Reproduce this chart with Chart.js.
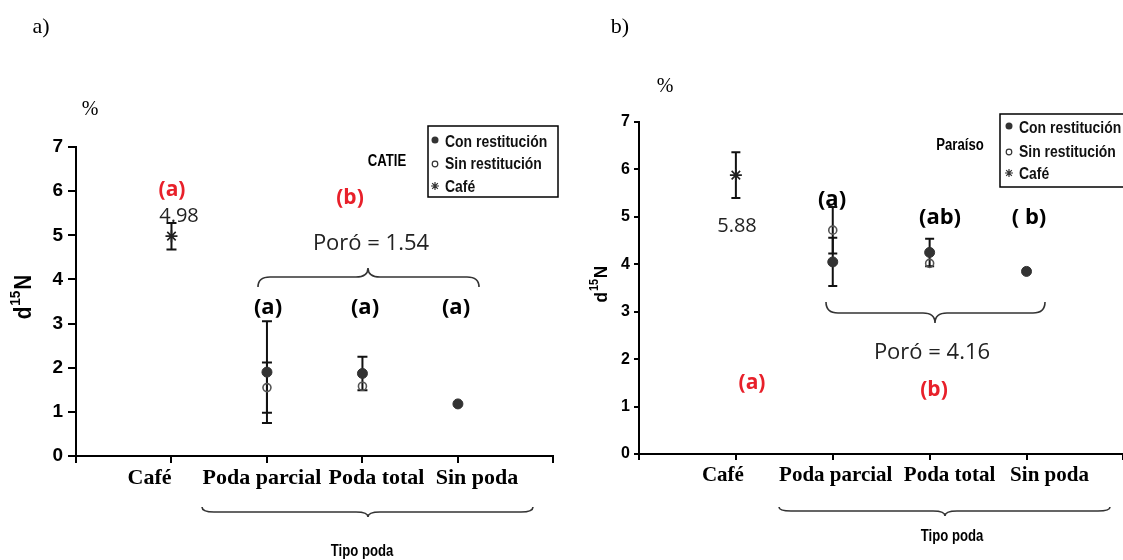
<!DOCTYPE html>
<html>
<head>
<meta charset="utf-8">
<script src="https://cdn.jsdelivr.net/npm/chart.js@4.4.1/dist/chart.umd.min.js"></script>
<style>
html, body { margin: 0; padding: 0; background: #fff; overflow: hidden; width: 1123px; height: 560px; }
#wrapA { position: absolute; left: 0; top: 0; width: 561px; height: 560px; }
#wrapB { position: absolute; left: 561px; top: 0; width: 570px; height: 560px; }
</style>
</head>
<body>
<div id="wrapA"><canvas id="chartA" width="561" height="560"></canvas></div>
<div id="wrapB"><canvas id="chartB" width="570" height="560"></canvas></div>
<script>
"use strict";

// categories on the x axis (placed at 1..4) and tick values
const categories = ["Café", "Poda parcial", "Poda total", "Sin poda"];
const xTicks = [0, 1, 2, 3, 4, 5];
const yTicks = [0, 1, 2, 3, 4, 5, 6, 7];

// a) CATIE
const catieCon = [null, 1.90, 1.87, 1.18];
const catieConErr = [null, 1.15, 0.38, 0];
const catieSin = [null, 1.55, 1.58, null];
const catieSinErr = [null, 0.57, 0, null];
const catieCafe = [4.98, null, null, null];
const catieCafeErr = [0.30, null, null, null];

// b) Paraíso
const paraisoCon = [null, 4.05, 4.25, 3.85];
const paraisoConErr = [null, 0.51, 0.29, 0];
const paraisoSin = [null, 4.72, 4.02, null];
const paraisoSinErr = [null, 0.49, 0, null];
const paraisoCafe = [5.88, null, null, null];
const paraisoCafeErr = [0.48, null, null, null];

const ARIAL = '"Liberation Sans", Arial, sans-serif';
const SERIF = '"Liberation Serif", "Times New Roman", serif';
const SANS = '"Open Sans", "Noto Sans", sans-serif';
const RED = "#e8202a";
const SQUEEZE = 0.82;   // no narrow font installed, so squeeze Liberation Sans

function toPoints(vals) {
    let pts = [];
    vals.forEach(function(v, i) {
        if (v !== null) pts.push({x: i + 1, y: v});
    });
    return pts;
}

// text in a condensed look: horizontal squeeze around the anchor
function fillNarrow(ctx, text, x, y, align) {
    ctx.save();
    ctx.translate(x, y);
    ctx.scale(SQUEEZE, 1);
    ctx.textAlign = align || "center";
    ctx.fillText(text, 0, 0);
    ctx.restore();
}

function drawStar(ctx, x, y, r) {
    ctx.beginPath();
    ctx.moveTo(x, y - r); ctx.lineTo(x, y + r);
    ctx.moveTo(x - r, y); ctx.lineTo(x + r, y);
    let d = r * 0.7071;
    ctx.moveTo(x - d, y - d); ctx.lineTo(x + d, y + d);
    ctx.moveTo(x - d, y + d); ctx.lineTo(x + d, y - d);
    ctx.stroke();
}

function drawBrace(ctx, b) {
    let r = 12;
    ctx.beginPath();
    ctx.moveTo(b.x1, b.yEnd);
    ctx.quadraticCurveTo(b.x1, b.yMid, b.x1 + r, b.yMid);
    ctx.lineTo(b.xt - r, b.yMid);
    ctx.quadraticCurveTo(b.xt, b.yMid, b.xt, b.yTip);
    ctx.quadraticCurveTo(b.xt, b.yMid, b.xt + r, b.yMid);
    ctx.lineTo(b.x2 - r, b.yMid);
    ctx.quadraticCurveTo(b.x2, b.yMid, b.x2, b.yEnd);
    ctx.strokeStyle = "#333";
    ctx.lineWidth = 1.6;
    ctx.stroke();
}

function annotPlugin(cfg) {
    return {
        id: "annot",
        beforeDatasetsDraw: function(chart) {
            let ctx = chart.ctx;
            let xs = chart.scales.x, ys = chart.scales.y;
            ctx.save();
            ctx.strokeStyle = "#111";
            ctx.lineWidth = 2;
            cfg.errors.forEach(function(s) {
                s.vals.forEach(function(v, i) {
                    let e = s.errs[i];
                    if (v === null || !e) return;
                    let px = xs.getPixelForValue(i + 1);
                    let lo = ys.getPixelForValue(v - e);
                    let hi = ys.getPixelForValue(v + e);
                    ctx.beginPath();
                    ctx.moveTo(px, lo); ctx.lineTo(px, hi);
                    ctx.moveTo(px - cfg.cap, lo); ctx.lineTo(px + cfg.cap, lo);
                    ctx.moveTo(px - cfg.cap, hi); ctx.lineTo(px + cfg.cap, hi);
                    ctx.stroke();
                });
            });
            ctx.restore();
        },
        afterDraw: function(chart) {
            let ctx = chart.ctx;
            let xs = chart.scales.x;
            ctx.save();
            ctx.textAlign = "center";
            ctx.textBaseline = "middle";

            // category labels under the axis
            ctx.fillStyle = "#000";
            ctx.font = cfg.catFont;
            categories.forEach(function(c, i) {
                ctx.fillText(c, xs.getPixelForValue(i + 1) + cfg.catOffset[i], cfg.catY);
            });

            cfg.texts.forEach(function(t) {
                ctx.font = t.font;
                ctx.fillStyle = t.color || "#000";
                if (t.narrow) fillNarrow(ctx, t.t, t.x, t.y);
                else ctx.fillText(t.t, t.x, t.y);
            });

            cfg.braces.forEach(function(b) { drawBrace(ctx, b); });

            // y axis title d15N, rotated
            let yt = cfg.yTitle;
            ctx.save();
            ctx.translate(yt.x, yt.y);
            ctx.rotate(-Math.PI / 2);
            ctx.scale(0.9, 1);
            ctx.fillStyle = "#000";
            let big = "bold " + yt.size + "px " + ARIAL;
            let small = "bold " + yt.sup + "px " + ARIAL;
            ctx.font = big;
            let wd = ctx.measureText("d").width, wn = ctx.measureText("N").width;
            ctx.font = small;
            let ws = ctx.measureText("15").width;
            let x0 = -(wd + ws + wn) / 2;
            ctx.textAlign = "left";
            ctx.font = big;
            ctx.fillText("d", x0, 0);
            ctx.font = small;
            ctx.fillText("15", x0 + wd + 1, -yt.size * 0.38);
            ctx.font = big;
            ctx.fillText("N", x0 + wd + ws + 2, 0);
            ctx.restore();

            // legend box
            let lg = cfg.legend;
            ctx.strokeStyle = "#000";
            ctx.lineWidth = 1.5;
            ctx.strokeRect(lg.x, lg.y, lg.w, lg.h);
            ctx.font = lg.font;
            let names = ["Con restitución", "Sin restitución", "Café"];
            names.forEach(function(n, i) {
                let my = lg.rows[i];
                ctx.fillStyle = "#111";
                fillNarrow(ctx, n, lg.tx, my, "left");
                ctx.strokeStyle = "#333";
                if (i === 0) {
                    ctx.beginPath(); ctx.arc(lg.mx, my - 2, 3.5, 0, Math.PI * 2);
                    ctx.fillStyle = "#333"; ctx.fill();
                } else if (i === 1) {
                    ctx.lineWidth = 1.2;
                    ctx.beginPath(); ctx.arc(lg.mx, my, 2.8, 0, Math.PI * 2); ctx.stroke();
                } else {
                    ctx.lineWidth = 1.2;
                    drawStar(ctx, lg.mx, my - 1, 4);
                }
            });
            ctx.restore();
        }
    };
}

function makeChart(id, con, sin, cafe, look, cfg) {
    let datasets = [{
        label: "Con restitución",
        data: toPoints(con),
        pointStyle: "circle",
        pointRadius: look.rCon,
        backgroundColor: "#333",
        borderColor: "#333",
        borderWidth: 1
    }, {
        label: "Sin restitución",
        data: toPoints(sin),
        pointStyle: "circle",
        pointRadius: look.rSin,
        backgroundColor: "rgba(255,255,255,0)",
        borderColor: "#555",
        borderWidth: 1.6
    }, {
        label: "Café",
        data: toPoints(cafe),
        pointStyle: "star",
        pointRadius: look.rCafe,
        borderColor: "#222",
        borderWidth: 1.6
    }];

    return new Chart(document.getElementById(id), {
        type: "scatter",
        data: {datasets: datasets},
        options: {
            responsive: false,
            animation: false,
            devicePixelRatio: 1,
            layout: {padding: {top: look.top, right: look.right, left: 0, bottom: 0}},
            plugins: {legend: {display: false}, tooltip: {enabled: false}},
            scales: {
                x: {
                    type: "linear", min: 0, max: 5,
                    afterBuildTicks: function(s) { s.ticks = xTicks.map(function(v) { return {value: v}; }); },
                    afterFit: function(s) { s.height = look.xH; },
                    ticks: {callback: function() { return ""; }},
                    grid: {drawOnChartArea: false, drawTicks: true, tickLength: look.xTick, color: "#000", lineWidth: 2},
                    border: {display: true, color: "#000", width: 2}
                },
                y: {
                    type: "linear", min: 0, max: 7,
                    afterBuildTicks: function(s) { s.ticks = yTicks.map(function(v) { return {value: v}; }); },
                    afterFit: function(s) { s.width = look.yW; },
                    ticks: {color: "#000", padding: look.yPad, font: {family: ARIAL, size: look.yFont, weight: "bold"}},
                    grid: {drawOnChartArea: false, drawTicks: true, tickLength: look.yTick, color: "#000", lineWidth: 2},
                    border: {display: true, color: "#000", width: 2}
                }
            }
        },
        plugins: [annotPlugin(cfg)]
    });
}

makeChart("chartA", catieCon, catieSin, catieCafe,
    {top: 147, right: 6, xH: 104, yW: 76, xTick: 7, yTick: 8, yPad: 5, yFont: 19, rCon: 5, rSin: 4, rCafe: 6},
    {
        cap: 5,
        errors: [
            {vals: catieCon, errs: catieConErr},
            {vals: catieSin, errs: catieSinErr},
            {vals: catieCafe, errs: catieCafeErr}
        ],
        catFont: "bold 22px " + SERIF,
        catY: 478,
        catOffset: [-22, -5, 14, 19],
        yTitle: {x: 25, y: 298, size: 23, sup: 15},
        legend: {x: 428, y: 126, w: 130, h: 71, rows: [142, 164, 187], mx: 435, tx: 445, font: "bold 17px " + ARIAL},
        braces: [
            {x1: 258, x2: 479, xt: 368, yEnd: 287, yMid: 277, yTip: 268},
            {x1: 202, x2: 533, xt: 368, yEnd: 507, yMid: 512, yTip: 517}
        ],
        texts: [
            {t: "a)", x: 41, y: 27, font: "22px " + SERIF},
            {t: "%", x: 90, y: 110, font: "20px " + SERIF},
            {t: "(a)", x: 172, y: 190, font: "bold 21px " + SANS, color: RED},
            {t: "4.98", x: 179, y: 216, font: "20px " + SANS, color: "#222"},
            {t: "(b)", x: 350, y: 198, font: "bold 21px " + SANS, color: RED},
            {t: "CATIE", x: 387, y: 162, font: "bold 16px " + ARIAL, narrow: true},
            {t: "Poró = 1.54", x: 371, y: 244, font: "22px " + SANS, color: "#222"},
            {t: "(a)", x: 268, y: 308, font: "bold 22px " + SANS},
            {t: "(a)", x: 365, y: 308, font: "bold 22px " + SANS},
            {t: "(a)", x: 456, y: 308, font: "bold 22px " + SANS},
            {t: "Tipo poda", x: 362, y: 552, font: "bold 16px " + ARIAL, narrow: true}
        ]
    });

makeChart("chartB", paraisoCon, paraisoSin, paraisoCafe,
    {top: 122, right: 4, xH: 106, yW: 78, xTick: 6, yTick: 5, yPad: 4, yFont: 16, rCon: 5, rSin: 4, rCafe: 6},
    {
        cap: 4.5,
        errors: [
            {vals: paraisoCon, errs: paraisoConErr},
            {vals: paraisoSin, errs: paraisoSinErr},
            {vals: paraisoCafe, errs: paraisoCafeErr}
        ],
        catFont: "bold 21px " + SERIF,
        catY: 476,
        catOffset: [-13, 3, 20, 23],
        yTitle: {x: 41, y: 285, size: 19, sup: 12},
        legend: {x: 439, y: 114, w: 140, h: 73, rows: [128, 152, 174], mx: 448, tx: 458, font: "bold 17px " + ARIAL},
        braces: [
            {x1: 265, x2: 484, xt: 374, yEnd: 302, yMid: 313, yTip: 323},
            {x1: 218, x2: 549, xt: 384, yEnd: 507, yMid: 511, yTip: 516}
        ],
        texts: [
            {t: "b)", x: 59, y: 27, font: "22px " + SERIF},
            {t: "%", x: 104, y: 87, font: "20px " + SERIF},
            {t: "5.88", x: 176, y: 226, font: "20px " + SANS, color: "#222"},
            {t: "(a)", x: 271, y: 200, font: "bold 22px " + SANS},
            {t: "(ab)", x: 379, y: 218, font: "bold 22px " + SANS},
            {t: "( b)", x: 468, y: 218, font: "bold 22px " + SANS},
            {t: "Paraíso", x: 399, y: 146, font: "bold 16px " + ARIAL, narrow: true},
            {t: "Poró = 4.16", x: 371, y: 353, font: "22px " + SANS, color: "#222"},
            {t: "(a)", x: 191, y: 383, font: "bold 21px " + SANS, color: RED},
            {t: "(b)", x: 373, y: 390, font: "bold 21px " + SANS, color: RED},
            {t: "Tipo poda", x: 391, y: 537, font: "bold 16px " + ARIAL, narrow: true}
        ]
    });
</script>
</body>
</html>
